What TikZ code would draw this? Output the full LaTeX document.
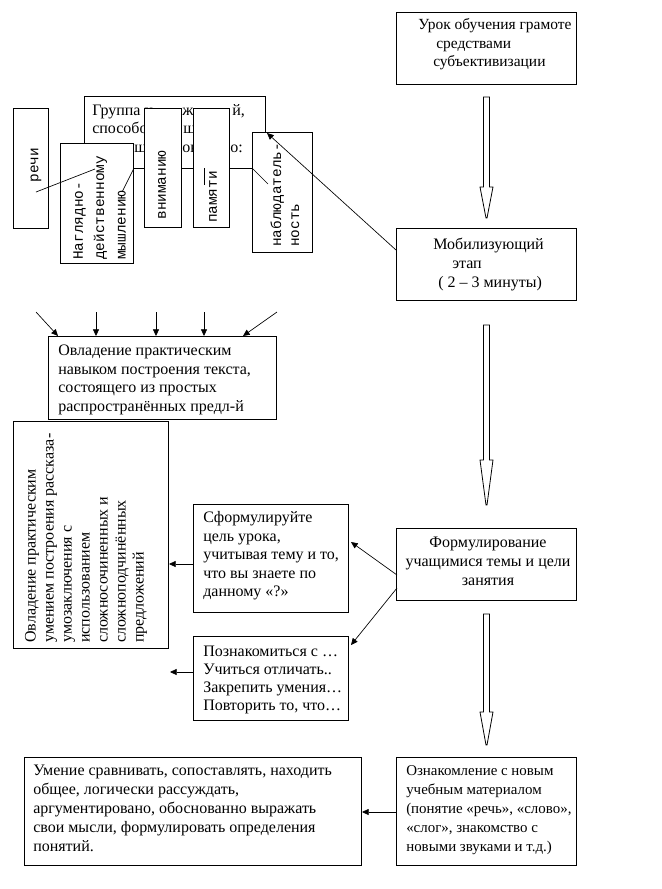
\documentclass[tikz,border=0pt]{standalone}
\usepackage{fontspec}
\setmainfont{Liberation Serif}
\newfontfamily\monof{Liberation Mono}
\usetikzlibrary{arrows.meta,calc}
\newcommand\mkbox[5]{\node[box,anchor=north west,minimum width=#4*0.75pt,minimum height=#5*0.75pt] (#1) at (#2,#3) {};}
\newcommand\blockarrow[3]{\draw[line width=0.6pt,fill=white] ($(#1)+(-3,0)$) -- ($(#1)+(3,0)$) -- ($(#1)+(3,#2)$) -- ($(#1)+(6.5,#2)$) -- ($(#1)+(0.5,#3)$) -- ($(#1)+(-0.5,#3)$) -- ($(#1)+(-6.5,#2)$) -- ($(#1)+(-3,#2)$) -- cycle;}
\begin{document}
\begin{tikzpicture}[x=0.75pt,y=-0.75pt,
  box/.style={draw,line width=0.75pt,fill=white,inner sep=0,rectangle},
  tx/.style={inner sep=0,align=left,anchor=north west},
  ser/.style={font=\fontsize{12pt}{#1}\selectfont},
  ser/.default=14pt,
  sers/.style={font=\fontsize{11.6pt}{#1}\selectfont},
  serx/.style={font=\fontsize{11.2pt}{#1}\selectfont},
  mono/.style={font=\monof\fontsize{10.8pt}{#1}\selectfont},
  mono/.default=13.5pt,
  rot/.style={inner sep=0,align=left,rotate=90},
  conn/.style={line width=0.5pt},
  arr/.style={conn,-{Triangle[length=5pt,width=4.5pt]}}]
\fill[white] (0,0) rectangle (661,889);
\useasboundingbox (0,0) rectangle (661,889);

% right column
\mkbox{urok}{396}{12}{180}{72}
\mkbox{mob}{396}{228}{180}{72}
\mkbox{form}{396}{528}{180}{72}
\mkbox{ozn}{396}{757}{180}{108}
\node[tx,sers=13.9pt] (turok) at (418,16.5) {\strut Урок обучения грамоте\\\hspace*{13.5pt}средствами\\\hspace*{11.25pt}субъективизации};
\node[tx,ser=14.25pt] (tmob) at (433,235.5) {\strut Мобилизующий\\\hspace*{14.25pt}этап\\\hspace*{3.75pt}( 2 – 3 минуты)};
\node[inner sep=0,align=center,anchor=north,ser=14.25pt] (tform) at (488,533.5) {\strut Формулирование\\учащимися темы и цели\\занятия};
\node[tx,serx=14.25pt] (tozn) at (406,761.5) {\strut Ознакомление с новым\\учебным материалом\\(понятие «речь», «слово»,\\«слог», знакомство с\\новыми звуками и т.д.)};

\coordinate (a1) at ($(urok.south)+(0,12)$);
\coordinate (a2) at ($(mob.south)+(0,24)$);
\coordinate (a3) at ($(form.south)+(0,13)$);
\blockarrow{a1}{90}{121}
\blockarrow{a2}{135}{180}
\blockarrow{a3}{98}{131}

% middle boxes
\mkbox{sform}{193}{504}{155}{108}
\mkbox{pozn}{193}{636}{155}{84}
\node[tx,ser=13.9pt] (tsform) at (203,509.5) {\strut Сформулируйте\\цель урока,\\учитывая тему и то,\\что вы знаете по\\данному «?»};
\node[tx,ser=13.5pt] (tpozn) at (203,643.5) {\strut Познакомиться с …\\Учиться отличать..\\Закрепить умения…\\Повторить то, что…};

% left boxes
\mkbox{ovl1}{48}{336}{228}{83}
\mkbox{ovl2}{13}{421}{155}{227}
\mkbox{umen}{24}{757}{337}{108}
\node[tx,ser=13.9pt] (tovl1) at (58,342.5) {\strut Овладение практическим\\навыком построения текста,\\состоящего из простых\\распространённых предл-й};
\node[rot,ser=13.5pt,anchor=west] (tovl2) at (86,643) {Овладение практическим\\умением построения рассказа-\\умозаключения с\\использованием\\сложносочиненных и\\сложноподчинённых\\предложений};
\node[tx,ser=14.25pt] (tumen) at (33,761.5) {\strut Умение сравнивать, сопоставлять, находить\\общее, логически рассуждать,\\аргументировано, обоснованно выражать\\свои мысли, формулировать определения\\понятий.};

% top-left cluster
\mkbox{group}{84}{96}{181}{72}
\node[inner sep=0,anchor=base west,ser] (g1a) at (92,115.6) {Группа у};
\node[inner sep=0,anchor=base west,ser] (g1b) at (182,115.6) {ж};
\node[inner sep=0,anchor=base west,ser] (g1c) at (232,115.6) {й,};
\node[inner sep=0,anchor=base west,ser] (g2a) at (92,133.6) {способос};
\node[inner sep=0,anchor=base west,ser] (g2b) at (183,133.6) {щ};
\node[inner sep=0,anchor=base west,ser] (g3a) at (134,152.6) {ш};
\node[inner sep=0,anchor=base west,ser] (g3b) at (182,152.6) {ов};
\node[inner sep=0,anchor=base west,ser] (g3c) at (230,152.6) {о:};

\mkbox{rechi}{13}{108}{35}{120}
\mkbox{nagl}{60}{143}{73}{120}
\mkbox{vnim}{144}{108}{37}{119}
\mkbox{pam}{193}{108}{36}{119}
\mkbox{nabl}{252}{132}{60}{120}
\node[rot,mono,anchor=center] (trechi) at (36,165) {речи};
\node[rot,mono=16pt,anchor=west] (tnagl) at (99.5,260) {Наглядно-\\действенному\\мышлению};
\node[rot,mono,anchor=center] (tvnim) at (162,185) {вниманию};
\node[rot,mono,anchor=center] (tpam) at (213,197) {памяти};
\node[rot,mono=13.5pt,anchor=west] (tnabl) at (285,247) {наблюдатель-\\ность};

% callout leader lines
\draw[conn] ($(group.south west)+(11,0)$) -- ($(rechi.north west)+(23,84)$);
\draw[conn] ($(nagl.north east)+(0,25)$) -- ($(nagl.north west)+(62,49)$);
\draw[conn] ($(pam.north west)+(11,60)$) -- ($(pam.north west)+(11,77)$);
\draw[conn] ($(nabl.north west)+(0,36)$) -- ($(nabl.north west)+(16,52)$);

% connectors
\draw[arr] ($(mob.north west)+(0,22)$) -- ($(nabl.north west)+(15,1)$);
\draw[arr] ($(form.north west)+(1,47)$) -- ($(sform.north east)+(2,38)$);
\draw[arr] ($(form.north west)+(1,60)$) -- ($(pozn.north east)+(2,9)$);
\draw[arr] ($(sform.north west)+(0,60)$) -- ($(ovl2.north east)+(0,143)$);
\coordinate (free1) at (170,672);
\draw[arr] ($(pozn.north west)+(0,36)$) -- (free1);
\draw[arr] ($(ozn.north west)+(0,55)$) -- ($(umen.north east)+(0,55)$);

\coordinate (s1) at (36,312);
\coordinate (s2) at (96,312);
\coordinate (s3) at (156,312);
\coordinate (s4) at (204,312);
\coordinate (s5) at (277,312);
\draw[arr] (s1) -- ($(ovl1.north west)+(10,0)$);
\draw[arr] (s2) -- ($(ovl1.north west)+(48,0)$);
\draw[arr] (s3) -- ($(ovl1.north west)+(108,0)$);
\draw[arr] (s4) -- ($(ovl1.north west)+(156,0)$);
\draw[arr] (s5) -- ($(ovl1.north west)+(195,0)$);
\end{tikzpicture}
\end{document}
